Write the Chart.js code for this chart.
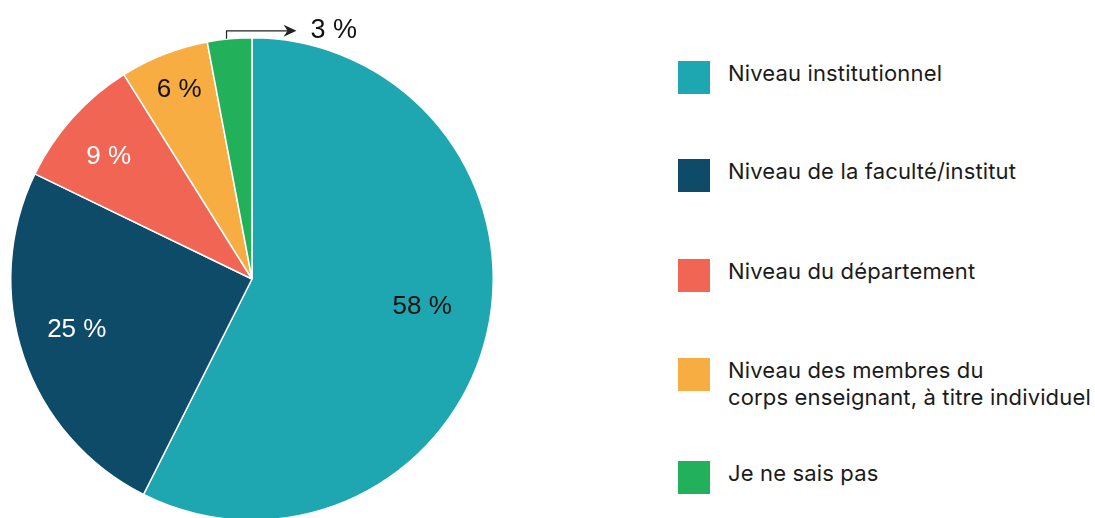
<!DOCTYPE html>
<html lang="fr">
<head>
<meta charset="utf-8">
<script src="https://cdn.jsdelivr.net/npm/chart.js@4.4.1/dist/chart.umd.min.js"></script>
<style>
  html, body { margin: 0; padding: 0; background: #fff; }
  body { width: 1095px; height: 518px; overflow: hidden; position: relative; }
  #pie { position: absolute; left: 0; top: 0; }
  .legend-item { position: absolute; left: 678px; display: flex; align-items: flex-start; }
  .legend-box { width: 32px; height: 33px; flex: none; }
  .legend-text { margin-left: 18px; margin-top: -1px; font-family: Inter, "Noto Sans", sans-serif; font-size: 22px;
                 line-height: 27px; color: #1b1b1b; white-space: nowrap; letter-spacing: 0.15px; }
</style>
</head>
<body>
<canvas id="pie" width="504" height="560"></canvas>
<div id="legend"></div>
<script>
// Data
const categories = [
    'Niveau institutionnel',
    'Niveau de la faculté/institut',
    'Niveau du département',
    ['Niveau des membres du', 'corps enseignant, à titre individuel'],
    'Je ne sais pas'
];
const percentages = [58, 25, 9, 6, 3];

// Styling
const colors = ['#1ea6b1', '#0e4b68', '#f06554', '#f7ad42', '#23b05a'];
const labelColors = ['#111', '#fff', '#fff', '#111', '#111'];
// [fraction of radius, angle shift in degrees]; null = label outside with arrow
const labelPlace = [[0.715, -4], [0.756, 2.6], [0.78, -1.5], [0.84, 0.3], null];
const legendTops = [61, 159, 259, 358, 461];

const sliceLabels = {
    id: 'sliceLabels',
    afterDatasetsDraw(chart) {
        const ctx = chart.ctx;
        const arcs = chart.getDatasetMeta(0).data;
        ctx.save();
        ctx.font = '26px "Liberation Sans", Arial, sans-serif';
        ctx.textBaseline = 'middle';
        arcs.forEach((arc, i) => {
            const p = arc.getProps(['x', 'y', 'startAngle', 'endAngle', 'outerRadius'], true);
            const text = percentages[i] + ' %';
            const mid = (p.startAngle + p.endAngle) / 2;
            if (labelPlace[i]) {
                const a = mid + labelPlace[i][1] * Math.PI / 180;
                const r = p.outerRadius * labelPlace[i][0];
                ctx.fillStyle = labelColors[i];
                ctx.textAlign = 'center';
                ctx.fillText(text, p.x + r * Math.cos(a), p.y + r * Math.sin(a));
            } else {
                // outside label with elbow arrow
                const sx = p.x + p.outerRadius * Math.cos(mid) - 3;
                const sy = p.y + p.outerRadius * Math.sin(mid);
                const ly = sy - 8;
                const tipX = sx + 70;
                ctx.strokeStyle = '#222';
                ctx.lineWidth = 1.2;
                ctx.beginPath();
                ctx.moveTo(sx, sy);
                ctx.lineTo(sx, ly);
                ctx.lineTo(tipX - 6, ly);
                ctx.stroke();
                ctx.fillStyle = '#222';
                ctx.beginPath();
                ctx.moveTo(tipX, ly);
                ctx.lineTo(tipX - 13, ly - 6);
                ctx.lineTo(tipX - 9, ly);
                ctx.lineTo(tipX - 13, ly + 6);
                ctx.closePath();
                ctx.fill();
                ctx.fillStyle = '#111';
                ctx.textAlign = 'left';
                ctx.font = '27px "Liberation Sans", Arial, sans-serif';
                ctx.fillText(text, tipX + 14, ly);
            }
        });
        ctx.restore();
    }
};

const chart = new Chart(document.getElementById('pie').getContext('2d'), {
    type: 'pie',
    data: {
        labels: categories,
        datasets: [{
            data: percentages,
            backgroundColor: colors,
            borderColor: '#ffffff',
            borderWidth: 1.5
        }]
    },
    options: {
        responsive: false,
        animation: false,
        layout: { padding: { left: 10, top: 37, right: 10, bottom: 39 } },
        plugins: {
            legend: { display: false },
            tooltip: { enabled: false }
        }
    },
    plugins: [sliceLabels]
});

// Legend built from the chart's labels and colours
const legend = document.getElementById('legend');
chart.data.labels.forEach((label, i) => {
    const item = document.createElement('div');
    item.className = 'legend-item';
    item.style.top = legendTops[i] + 'px';
    const box = document.createElement('div');
    box.className = 'legend-box';
    box.style.background = colors[i];
    const text = document.createElement('div');
    text.className = 'legend-text';
    text.innerHTML = (Array.isArray(label) ? label : [label]).join('<br>');
    item.appendChild(box);
    item.appendChild(text);
    legend.appendChild(item);
});
</script>
</body>
</html>
